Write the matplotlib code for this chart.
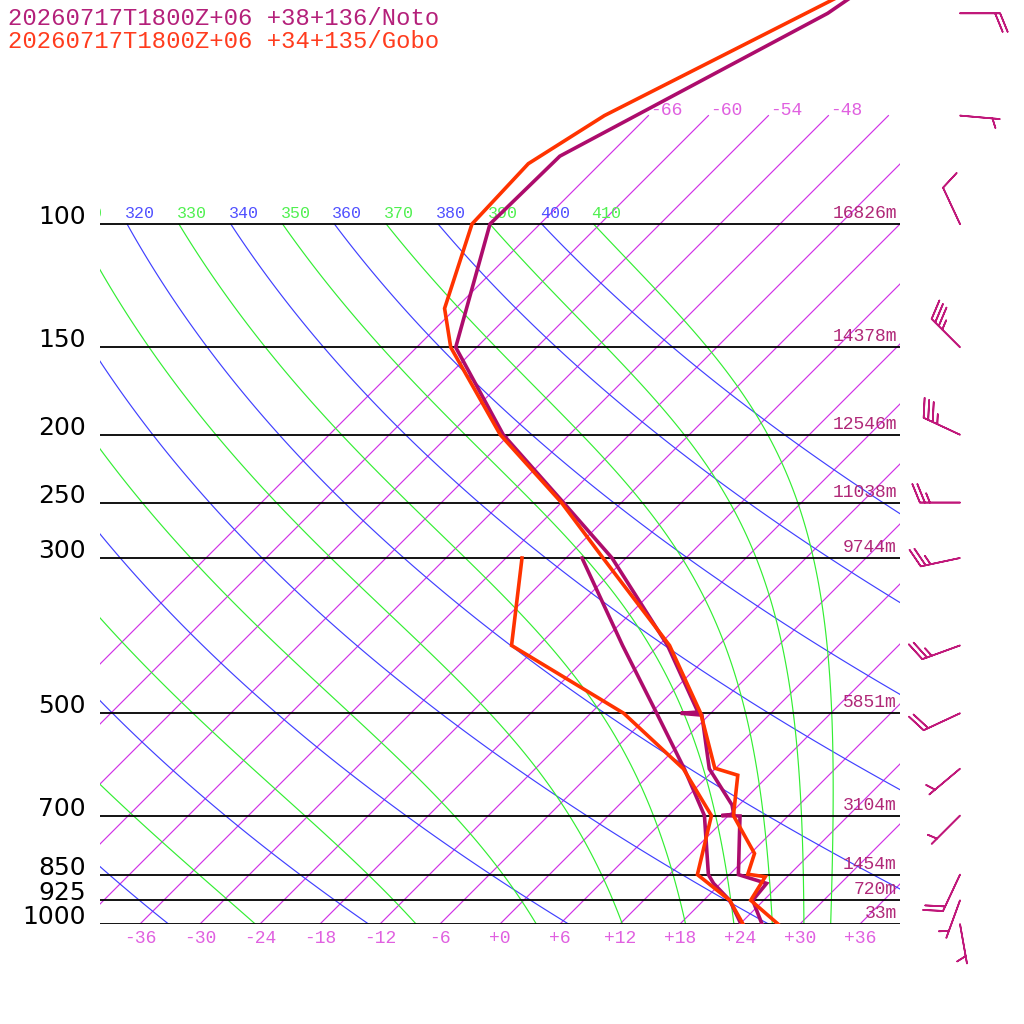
import numpy as np
import matplotlib
matplotlib.use("Agg")
import matplotlib.pyplot as plt
from matplotlib.transforms import Affine2D, blended_transform_factory, offset_copy
from matplotlib.ticker import NullLocator

# --- soundings: pressure (hPa), temperature / dewpoint (degC) ---
noto_t_p = [1000, 925, 875, 850, 701, 700, 697, 676, 600, 503, 500, 498,
            400, 300, 250, 200, 150, 100, 80, 50, 40]
noto_t = [26.2, 22.9, 22.6, 18.9, 13.2, 11.3, 12.4, 11.3, 5.4, -0.7, -3.0, -1.4,
          -11.1, -25.4, -35.8, -48.6, -62.1, -71.0, -70.8, -58.3, -55.2]
noto_td_p = [1000, 925, 875, 850, 700, 600, 500, 400, 300]
noto_td = [24.1, 20.6, 17.3, 15.9, 9.6, 2.9, -5.4, -15.6, -28.4]

gobo_t_p = [1000, 925, 856, 849, 793, 700, 613, 599, 500, 400, 300, 250,
            200, 150, 132, 100, 82, 70, 40]
gobo_t = [27.8, 22.7, 21.8, 19.8, 18.4, 12.5, 8.9, 5.9, -1.0, -10.9, -26.3, -36.0,
          -48.9, -62.6, -67.1, -72.8, -73.2, -70.4, -53.9]
gobo_td_p = [1000, 925, 850, 700, 600, 500, 400, 300]
gobo_td = [24.3, 20.6, 14.8, 10.3, 2.8, -8.7, -26.7, -34.4]

# --- winds (Noto) ---
wind_p = [1000, 925, 850, 700, 600, 500, 400, 300, 250, 200, 150, 100, 70, 50]
wind_dir = [170, 200, 205, 225, 230, 245, 250, 258, 270, 295, 315, 335, 95, 90]
wind_kt = [5, 5, 20, 5, 5, 20, 25, 25, 25, 35, 35, 10, 5, 20]

# --- isobars and heights ---
p_levels = [1000, 925, 850, 700, 500, 300, 250, 200, 150, 100]
heights = ["33m", "720m", "1454m", "3104m", "5851m", "9744m", "11038m",
           "12546m", "14378m", "16826m"]

# --- background lines ---
isotherms = list(range(-66, 37, 6))
isotherm_labels = [-66, -60, -54, -48]
dry_thetas = list(range(240, 401, 20))
moist_thetas = list(range(250, 411, 20))

title_noto = "20260717T1800Z+06 +38+136/Noto"
title_gobo = "20260717T1800Z+06 +34+135/Gobo"

C_NOTO = "#ad0c6c"
C_GOBO = "#ff3300"
C_BLUE = "#4040ff"
C_GREEN = "#33ee33"
C_MAG = "#d033e6"
MONO = "Liberation Mono"

Rd, Cp, Lv, eps = 287.04, 1005.7, 2.501e6, 0.622
kappa = Rd / Cp


def moist_rate(T, p):
    es = 6.112 * np.exp(17.67 * (T - 273.15) / (T - 29.65))
    rs = eps * es / (p - es)
    return (Rd * T + Lv * rs) / (Cp + Lv * Lv * rs * eps / (Rd * T * T))


def moist_adiabat(theta, p):
    # integrate downward from 100 hPa in ln p
    T = theta * (p[0] / 1000.0) ** kappa
    out = [T]
    for i in range(len(p) - 1):
        h = np.log(p[i + 1]) - np.log(p[i])
        lp = np.log(p[i])
        k1 = moist_rate(T, p[i])
        k2 = moist_rate(T + h * k1 / 2, np.exp(lp + h / 2))
        k3 = moist_rate(T + h * k2 / 2, np.exp(lp + h / 2))
        k4 = moist_rate(T + h * k3, p[i + 1])
        T = T + h * (k1 + 2 * k2 + 2 * k3 + k4) / 6
        out.append(T)
    return np.array(out) - 273.15


fig = plt.figure(figsize=(10.24, 10.24), dpi=100)
W, H = 800, 924
ax = fig.add_axes([100 / 1024, 100 / 1024, W / 1024, H / 1024])
p_top = 1000 * np.exp(-924 / 304.0)
ax.set_yscale("log")
ax.set_ylim(1000, p_top)
ax.set_xlim(-40, 40)
for s in ax.spines.values():
    s.set_visible(False)

shear = Affine2D(np.array([[1.0, H / W, 0.0], [0.0, 1.0, 0.0], [0.0, 0.0, 1.0]]))
skew = ax.transScale + ax.transLimits + shear + ax.transAxes
bg = dict(transform=skew, lw=0.85, zorder=1)

# isotherms
for t in isotherms:
    ax.plot([t, t], [1000, 70], color=C_MAG, **bg)
iso_lab = offset_copy(skew, fig=fig, x=2, y=1, units="dots")
for t in isotherm_labels:
    ax.text(t, 70, f"{t:+d}", transform=iso_lab, color="#e060e0", fontsize=13,
            family=MONO, ha="left", va="baseline", clip_on=True)

# dry and moist adiabats, labelled where they meet 100 hPa
pp = np.logspace(2, 3, 120)
th_lab = offset_copy(skew, fig=fig, x=-2, y=6, units="dots")
for th in dry_thetas:
    tt = th * (pp / 1000.0) ** kappa - 273.15
    ax.plot(tt, pp, color=C_BLUE, **bg)
    if tt[0] > -116:
        ax.text(tt[0], 100, str(th), transform=th_lab, color="#5050ff", fontsize=12,
                family=MONO, ha="left", va="baseline", clip_on=True)
for th in moist_thetas:
    tt = moist_adiabat(th, pp)
    ax.plot(tt, pp, color=C_GREEN, **bg)
    if tt[0] > -116:
        ax.text(tt[0], 100, str(th), transform=th_lab, color="#50f050", fontsize=12,
                family=MONO, ha="left", va="baseline", clip_on=True)

# isobars and heights
ax.hlines(p_levels, -40, 40, colors="black", lw=1.3, zorder=2)
hgt_tr = blended_transform_factory(ax.transAxes, ax.transData)
for p, h in zip(p_levels, heights):
    ax.text(0.996, p, h, transform=offset_copy(hgt_tr, fig=fig, x=0, y=2, units="dots"),
            color="#b02878", fontsize=13, family=MONO, ha="right", va="bottom")

# soundings
kw = dict(transform=skew, lw=2.6, solid_joinstyle="miter", zorder=4)
ax.plot(noto_td, noto_td_p, color=C_NOTO, **kw)
ax.plot(gobo_td, gobo_td_p, color=C_GOBO, **kw)
ax.plot(noto_t, noto_t_p, color=C_NOTO, **kw)
ax.plot(gobo_t, gobo_t_p, color=C_GOBO, **kw)

# axes ticks
xt = list(range(-36, 37, 6))
ax.set_xticks(xt)
ax.set_xticklabels([f"{t:+d}" for t in xt], color="#e060e0", fontsize=13, family=MONO)
ax.tick_params(axis="x", length=0, pad=4)
ax.yaxis.set_minor_locator(NullLocator())
ax.set_yticks(p_levels)
ax.set_yticklabels([str(p) for p in p_levels], fontsize=18, color="black")
ax.tick_params(axis="y", length=0, pad=10)
for lab in ax.get_yticklabels():
    lab.set_verticalalignment("baseline")

# wind barbs
axw = fig.add_axes([900 / 1024, 100 / 1024, 124 / 1024, H / 1024])
axw.set_yscale("log")
axw.set_ylim(1000, p_top)
axw.set_xlim(0, 124)
axw.axis("off")
d = np.radians(wind_dir)
u = -np.array(wind_kt) * np.sin(d)
v = -np.array(wind_kt) * np.cos(d)
axw.barbs(np.full(len(wind_p), 60), wind_p, u, v, length=7.6, color="#c0187a",
          lw=1.2, sizes=dict(height=0.46, width=0.375, spacing=0.125),
          clip_on=False)

fig.text(8 / 1024, 1 - 25 / 1024, title_noto, color="#b4207a", fontsize=17.2,
         family=MONO, va="baseline")
fig.text(8 / 1024, 1 - 48 / 1024, title_gobo, color="#ff3c1e", fontsize=17.2,
         family=MONO, va="baseline")

fig.savefig("out.png", dpi=100, facecolor="white")
